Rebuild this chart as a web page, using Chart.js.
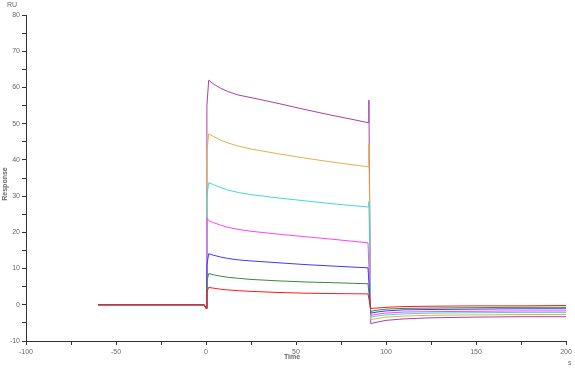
<!DOCTYPE html>
<html>
<head>
<meta charset="utf-8">
<script src="https://cdn.jsdelivr.net/npm/chart.js@4.4.1/dist/chart.umd.min.js"></script>
<style>
  html, body { margin: 0; padding: 0; background: #fff; }
  #wrap { width: 575px; height: 368px; }
</style>
</head>
<body>
<div id="wrap"><canvas id="sprChart"></canvas></div>
<script>
// time points (s) shared by every sensorgram
const times = [-60, -40, -20, -1, 0, 0.5, 1.5, 4, 8, 12, 18, 25, 40, 55, 70, 90, 90.5, 91.5, 95, 100, 110, 125, 150, 175, 200];

// response (RU), one array per concentration
const red     = [0, 0, 0, 0, -1, 3.5, 4.8, 4.6, 4.3, 4.1, 3.9, 3.7, 3.4, 3.2, 3.1, 3.0, 3.0, -1.0, -0.9, -0.7, -0.5, -0.4, -0.3, -0.3, -0.2];
const green   = [0, 0, 0, 0, -1, 6.5, 8.6, 8.3, 7.9, 7.6, 7.3, 7.0, 6.6, 6.3, 6.1, 5.8, 5.8, -1.8, -1.5, -1.2, -1.0, -0.9, -0.8, -0.7, -0.7];
const blue    = [0, 0, 0, 0, -1, 11, 14.1, 13.7, 13.2, 12.8, 12.4, 12.1, 11.6, 11.1, 10.7, 10.2, 10.2, -2.3, -2.0, -1.7, -1.4, -1.3, -1.2, -1.1, -1.1];
const magenta = [0, 0, 0, 0, -1, 24, 23.2, 22.7, 22.0, 21.4, 20.8, 20.3, 19.5, 18.8, 18.1, 17.1, 17.1, -2.9, -2.6, -2.3, -2.0, -1.9, -1.8, -1.7, -1.7];
const cyan    = [0, 0, 0, 0, -1, 30, 33.7, 33.2, 32.4, 31.7, 31.0, 30.4, 29.5, 28.7, 27.9, 27.0, 28.5, -3.4, -3.1, -2.8, -2.5, -2.3, -2.2, -2.1, -2.1];
const gold    = [0, 0, 0, 0, -1, 42, 47.2, 46.5, 45.5, 44.7, 43.8, 43.0, 41.7, 40.5, 39.4, 38.1, 44.5, -4.1, -3.8, -3.4, -3.1, -2.9, -2.8, -2.7, -2.7];
const purple  = [0, 0, 0, 0, -1, 55, 62.0, 61.0, 59.8, 58.9, 57.9, 57.2, 55.6, 53.9, 52.3, 50.3, 56.5, -5.2, -4.8, -4.3, -3.9, -3.6, -3.4, -3.3, -3.3];

const series = [
  { name: 'red', values: red, color: '#ff1a1a' },
  { name: 'green', values: green, color: '#3a8a3a' },
  { name: 'blue', values: blue, color: '#3a3aff' },
  { name: 'magenta', values: magenta, color: '#ff40ff' },
  { name: 'cyan', values: cyan, color: '#40d8d8' },
  { name: 'gold', values: gold, color: '#e6ad4c' },
  { name: 'purple', values: purple, color: '#a540a5' }
];

const axisColor = '#333';
const labelColor = '#666';

const extraText = {
  id: 'extraText',
  afterDraw(chart) {
    const c = chart.ctx;
    c.save();
    c.fillStyle = labelColor;
    c.font = '7px "Liberation Sans", Arial, sans-serif';
    c.textBaseline = 'middle';
    c.textAlign = 'left';
    c.fillText('RU', 7, 5);
    c.fillText('s', 568, 363);
    c.textAlign = 'center';
    c.font = 'bold 7px "Liberation Sans", Arial, sans-serif';
    c.fillText('Time', 292, 357);
    c.translate(5, 184);
    c.rotate(-Math.PI / 2);
    c.fillText('Response', 0, 0);
    c.restore();
  }
};

const ctx = document.getElementById('sprChart').getContext('2d');
new Chart(ctx, {
  type: 'line',
  data: {
    datasets: series.map(s => ({
      label: s.name,
      data: times.map((t, i) => ({ x: t, y: s.values[i] })),
      borderColor: s.color,
      borderWidth: 1,
      pointRadius: 0,
      tension: 0,
      fill: false
    }))
  },
  plugins: [extraText],
  options: {
    responsive: true,
    maintainAspectRatio: false,
    animation: false,
    layout: { padding: { top: 15, right: 9, left: 0, bottom: 0 } },
    plugins: { legend: { display: false }, tooltip: { enabled: false } },
    scales: {
      x: {
        type: 'linear',
        min: -100,
        max: 200,
        afterFit: s => { s.height = 27; },
        border: { display: true, color: axisColor, width: 1 },
        grid: { display: true, drawOnChartArea: false, drawTicks: true, tickLength: 4, tickColor: axisColor },
        ticks: {
          stepSize: 25,
          autoSkip: false,
          maxRotation: 0,
          padding: 3,
          color: labelColor,
          font: { size: 7, family: '"Liberation Sans", Arial, sans-serif' },
          callback: v => (v % 50 === 0 ? v : '')
        }
      },
      y: {
        min: -10,
        max: 80,
        afterFit: s => { s.width = 26; },
        border: { display: true, color: axisColor, width: 1 },
        grid: { display: true, drawOnChartArea: false, drawTicks: true, tickLength: 4, tickColor: axisColor },
        ticks: {
          stepSize: 5,
          autoSkip: false,
          padding: 2,
          color: labelColor,
          font: { size: 7, family: '"Liberation Sans", Arial, sans-serif' },
          callback: v => (v % 10 === 0 ? v : '')
        }
      }
    }
  }
});
</script>
</body>
</html>
